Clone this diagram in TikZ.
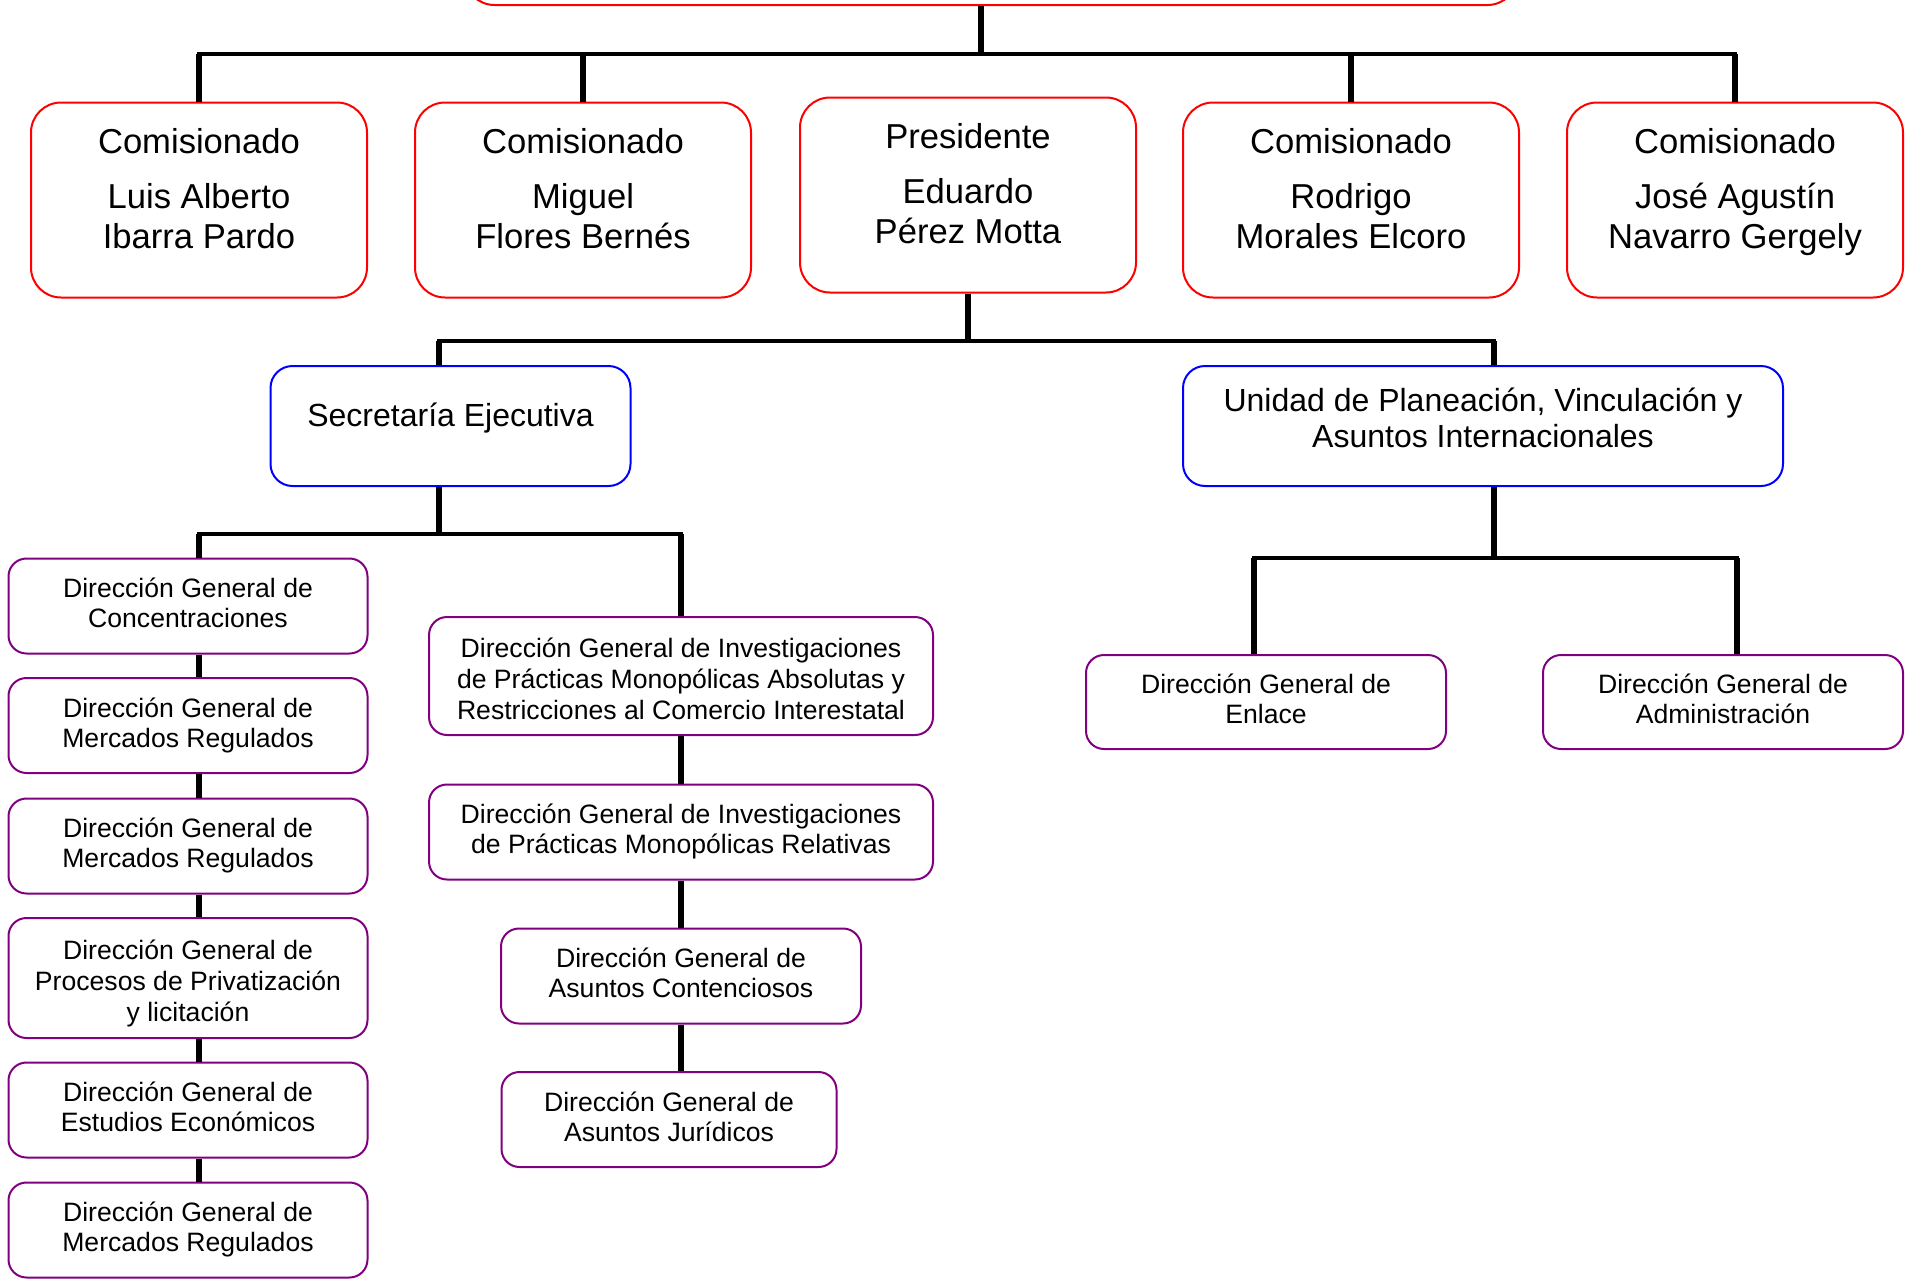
\documentclass[tikz,border=0pt]{standalone}
\usepackage{fontspec}
\setmainfont{Liberation Sans}
\definecolor{dirpurple}{RGB}{128,0,128}
\newcommand{\padbot}[1]{\rule[-#1]{0pt}{#1}}
\newcommand{\padtop}[1]{\rule{0pt}{#1}}

\begin{document}
\begin{tikzpicture}
  [x=0.5pt,y=-0.5pt]
      \tikzstyle{com_box} = [draw=red, line width=1pt, rounded corners=15pt, minimum width=168pt, minimum height=97.5pt, align=center, font=\fontsize{17.3}{20}\selectfont]
      \tikzstyle{unit_box} = [draw=blue, line width=1pt, rounded corners=11pt, minimum height=60pt, align=center, font=\fontsize{16}{18}\selectfont]
      \tikzstyle{dir_box} = [draw=dirpurple, line width=1pt, rounded corners=9pt, minimum width=179.5pt, minimum height=47.5pt, align=center, font=\fontsize{13.3}{15}\selectfont]
      \tikzstyle{dir_box3} = [dir_box, minimum height=60pt, font=\fontsize{13.3}{15.5}\selectfont]
      \tikzstyle{bar_line} = [line width=2.4pt, line cap=rect]
      \tikzstyle{drop_line} = [line width=2.7pt]
      \tikzstyle{link_line} = [line width=2.8pt]
  \useasboundingbox (0,0) rectangle (1912,1280);

  \node[com_box, minimum width=526.5pt, minimum height=50pt] (top) at (991,-45) {};
  \node[com_box] (c1) at (199,200) {Comisionado\\[7.5pt]Luis Alberto\\Ibarra Pardo\padbot{11.8pt}};
  \node[com_box] (c2) at (583,200) {Comisionado\\[7.5pt]Miguel\\Flores Bernés\padbot{11.8pt}};
  \node[com_box] (pr) at (968,195) {Presidente\\[7.5pt]Eduardo\\Pérez Motta\padbot{11.8pt}};
  \node[com_box] (c4) at (1351,200) {Comisionado\\[7.5pt]Rodrigo\\Morales Elcoro\padbot{11.8pt}};
  \node[com_box] (c5) at (1735,200) {Comisionado\\[7.5pt]José Agustín\\Navarro Gergely\padbot{11.8pt}};

  \node[unit_box, minimum width=180pt] (se) at (450.5,426) {Secretaría Ejecutiva\padbot{11pt}};
  \node[unit_box, minimum width=300pt] (un) at (1483,426) {Unidad de Planeación, Vinculación y\\Asuntos Internacionales\padbot{8.5pt}};

  \node[dir_box] (l1) at (188,606) {Dirección General de\\Concentraciones\padbot{3pt}};
  \node[dir_box] (l2) at (188,725.5) {Dirección General de\\Mercados Regulados\padbot{3pt}};
  \node[dir_box] (l3) at (188,846) {Dirección General de\\Mercados Regulados\padbot{3pt}};
  \node[dir_box3] (l4) at (188,978) {\padtop{15pt}Dirección General de\\Procesos de Privatización\\y licitación\padbot{3pt}};
  \node[dir_box] (l5) at (188,1110) {Dirección General de\\Estudios Económicos\padbot{3pt}};
  \node[dir_box] (l6) at (188,1230) {Dirección General de\\Mercados Regulados\padbot{3pt}};

  \node[dir_box3, minimum width=252pt, minimum height=59pt] (ma) at (681,676) {\padtop{15pt}Dirección General de Investigaciones\\de Prácticas Monopólicas Absolutas y\\Restricciones al Comercio Interestatal\padbot{3pt}};
  \node[dir_box, minimum width=252pt] (mb) at (681,832) {Dirección General de Investigaciones\\de Prácticas Monopólicas Relativas\padbot{3pt}};
  \node[dir_box, minimum width=180pt] (mc) at (681,976) {Dirección General de\\Asuntos Contenciosos\padbot{3pt}};
  \node[dir_box, minimum width=167.5pt] (md) at (669,1119.5) {Dirección General de\\Asuntos Jurídicos\padbot{3pt}};

  \node[dir_box, minimum width=180pt, minimum height=47pt] (ea) at (1266,702) {Dirección General de\\Enlace\padbot{3pt}};
  \node[dir_box, minimum width=180pt, minimum height=47pt] (eb) at (1723,702) {Dirección General de\\Administración\padbot{3pt}};

  % junctions of the bars
  \coordinate (b0) at (981,54);
  \coordinate (b1l) at (439,341);
  \coordinate (b1r) at (1494,341);
  \coordinate (b2l) at (199,534);
  \coordinate (b2r) at (681,534);
  \coordinate (b3l) at (1254,558);
  \coordinate (b3r) at (1737,558);

  \draw[drop_line] (top.south -| b0) -- (b0);
  \draw[bar_line] (c1.north |- b0) -- (c5.north |- b0);
  \foreach \n in {c1,c2,c4,c5}
    \draw[drop_line] (\n.north |- b0) -- (\n.north);

  \draw[drop_line] (pr.south) -- (pr.south |- b1l);
  \draw[bar_line] (b1l) -- (b1r);
  \draw[drop_line] (b1l) -- (b1l |- se.north);
  \draw[drop_line] (b1r) -- (b1r |- un.north);

  \draw[link_line] (se.south -| b1l) -- (b1l |- b2l);
  \draw[bar_line] (b2l) -- (b2r);
  \draw[link_line] (b2l) -- (b2l |- l1.north);
  \draw[link_line] (b2r) -- (ma.north);
  \foreach \a/\b in {l1/l2,l2/l3,l3/l4,l4/l5,l5/l6}
    \draw[link_line] (b2l |- \a.south) -- (b2l |- \b.north);
  \foreach \a/\b in {ma/mb,mb/mc,mc/md}
    \draw[link_line] (\a.south) -- (\a.south |- \b.north);

  \draw[link_line] (un.south -| b1r) -- (b1r |- b3l);
  \draw[bar_line] (b3l) -- (b3r);
  \draw[link_line] (b3l) -- (b3l |- ea.north);
  \draw[link_line] (b3r) -- (b3r |- eb.north);
\end{tikzpicture}
\end{document}
